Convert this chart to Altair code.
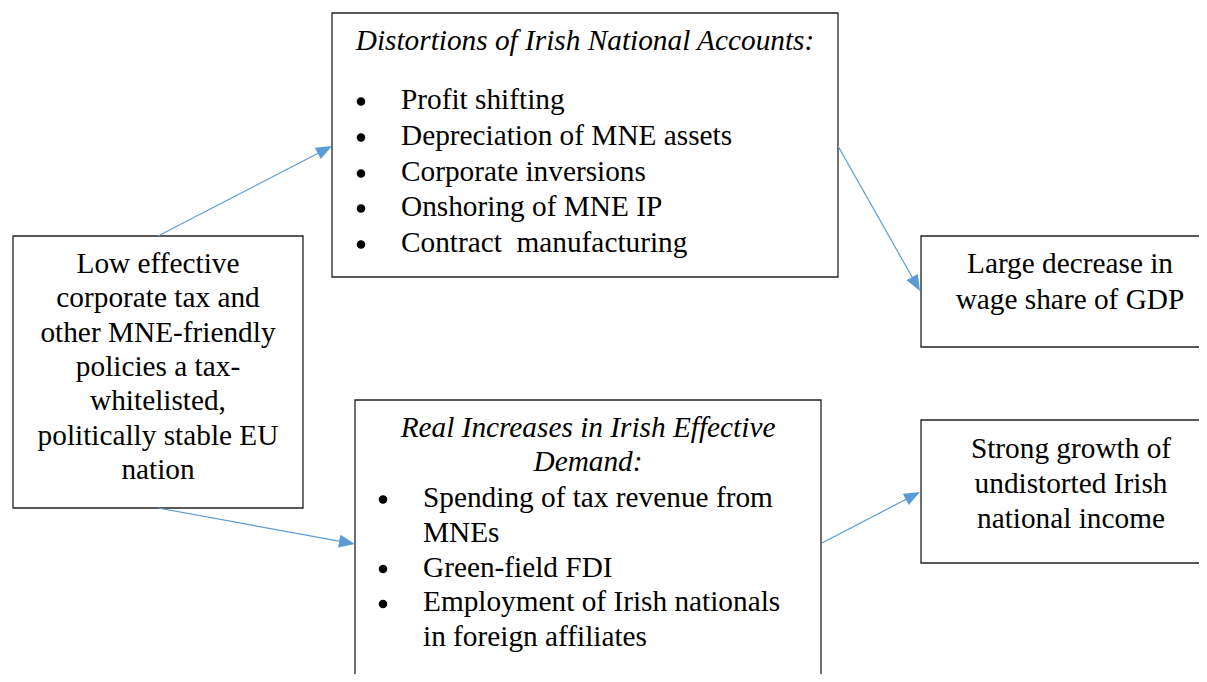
import math
import altair as alt
import pandas as pd

# ---- content -------------------------------------------------------------
box_names = ["cause", "distortions", "wage", "real", "growth"]
box_x1 = [13, 332, 921, 355, 921]
box_x2 = [303, 838, 1230, 821, 1230]
box_y1 = [236, 13, 236, 400, 420]
box_y2 = [508, 277, 347, 720, 563]

cause_lines = ["Low effective", "corporate tax and", "other MNE-friendly",
               "policies a tax-", "whitelisted,", "politically stable EU", "nation"]
distortion_title = "Distortions of Irish National Accounts:"
distortion_items = ["Profit shifting", "Depreciation of MNE assets",
                    "Corporate inversions", "Onshoring of MNE IP",
                    "Contract\u00a0 manufacturing"]
wage_lines = ["Large decrease in", "wage share of GDP"]
real_title = ["Real Increases in Irish Effective", "Demand:"]
real_items = [["Spending of tax revenue from", "MNEs"], ["Green-field FDI"],
              ["Employment of Irish nationals", "in foreign affiliates"]]
growth_lines = ["Strong growth of", "undistorted Irish", "national income"]

# arrows: start -> tip
arrow_x1 = [158, 838, 158, 822]
arrow_y1 = [236, 146, 508, 543]
arrow_x2 = [332, 920, 355, 920]
arrow_y2 = [146, 291, 544, 492]

# ---- layout tables -------------------------------------------------------
boxes = pd.DataFrame({"name": box_names, "x1": box_x1, "x2": box_x2,
                      "y1": box_y1, "y2": box_y2})

rows = []
def add(t, x, y, align="center", style="normal"):
    rows.append({"t": t, "x": x, "y": y, "al": align, "st": style})

for i, t in enumerate(cause_lines):
    add(t, 158, 273 + 34.3 * i)
add(distortion_title, 585, 50, style="italic")
dist_base = [109, 145, 181, 216, 252]
bullets = []
for t, b in zip(distortion_items, dist_base):
    add(t, 401, b, align="left")
    bullets.append({"x": 361, "y": b - 7.5})
for i, t in enumerate(wage_lines):
    add(t, 1070, 273 + 36 * i)
for i, t in enumerate(real_title):
    add(t, 588, 437 + 34 * i, style="italic")
y = 507
for item in real_items:
    bullets.append({"x": 383, "y": y - 7.5})
    for t in item:
        add(t, 423, y, align="left")
        y += 34.8
for i, t in enumerate(growth_lines):
    add(t, 1071, 458 + 35 * i)

texts = pd.DataFrame(rows)
bul = pd.DataFrame(bullets)

HL = 8
lines, heads = [], []
for x1, y1, x2, y2 in zip(arrow_x1, arrow_y1, arrow_x2, arrow_y2):
    dx, dy = x2 - x1, y2 - y1
    L = math.hypot(dx, dy)
    ux, uy = dx / L, dy / L
    cx, cy = x2 - ux * HL, y2 - uy * HL
    lines.append({"x": x1, "y": y1, "x2": cx, "y2": cy})
    heads.append({"x": cx, "y": cy,
                  "angle": math.degrees(math.atan2(dx, -dy)) % 360})
arr = pd.DataFrame(lines)
hd = pd.DataFrame(heads)

W, H = 1191, 666
xs = alt.Scale(domain=[8, 8 + W], nice=False, zero=False)
ys = alt.Scale(domain=[8, 8 + H], nice=False, zero=False, reverse=True)
X = lambda f: alt.X(f, type="quantitative", scale=xs, axis=None)
Y = lambda f: alt.Y(f, type="quantitative", scale=ys, axis=None)

rect = alt.Chart(boxes).mark_rect(fill="white", stroke="#222", strokeWidth=1.3,
                                  clip=True).encode(
    x=X("x1"), x2="x2", y=Y("y1"), y2="y2")

rule = alt.Chart(arr).mark_rule(color="#5B9BD5", strokeWidth=1.2).encode(
    x=X("x"), y=Y("y"), x2="x2", y2="y2")

head = alt.Chart(hd).mark_point(shape="M0,-1L0.8,1L-0.8,1Z", filled=True,
                                 opacity=1, color="#5B9BD5", strokeWidth=0).encode(
    x=X("x"), y=Y("y"), angle=alt.Angle("angle:Q", scale=None),
    size=alt.value((2 * HL) ** 2))

dots = alt.Chart(bul).mark_circle(color="black", opacity=1, size=72).encode(
    x=X("x"), y=Y("y"))

def txt(align, style):
    d = texts[(texts["al"] == align) & (texts["st"] == style)]
    return alt.Chart(d).mark_text(font="Liberation Serif", fontSize=29.3,
                                  fontStyle=style, align=align,
                                  baseline="alphabetic", color="black").encode(
        x=X("x"), y=Y("y"), text="t:N")

chart = alt.layer(rect, rule, head, dots,
                  txt("center", "normal"), txt("left", "normal"),
                  txt("center", "italic")).properties(
    width=W, height=H, padding=0, autosize=alt.AutoSizeParams(type="none"),
    background="white"
).configure_view(stroke=None)

chart.save("out.html", embed_options={"renderer": "svg", "actions": False})
